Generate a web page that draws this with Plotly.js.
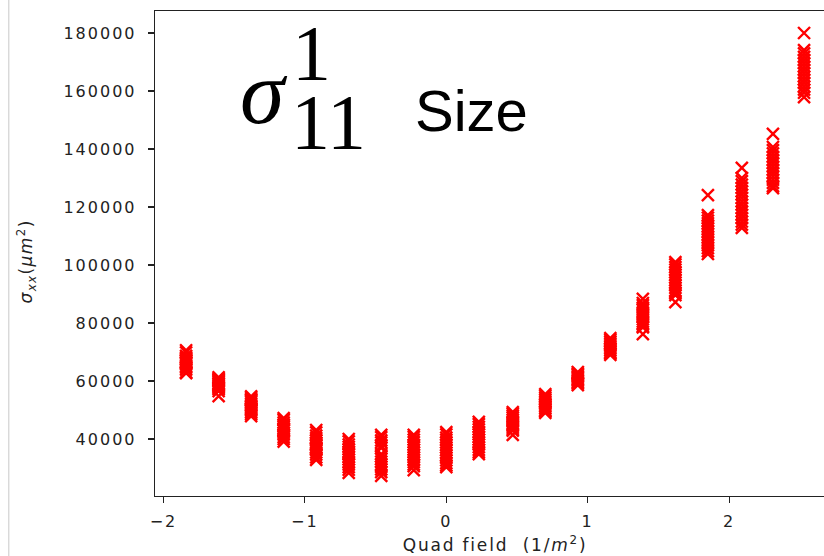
<!DOCTYPE html>
<html>
<head>
<meta charset="utf-8">
<script src="https://cdn.plot.ly/plotly-3.0.1.min.js"></script>
<style>
html, body { margin: 0; padding: 0; background: #fff; overflow: hidden; }
.xtick text, .ytick text { letter-spacing: 2px; }
.annotation[data-index="4"] text { letter-spacing: 1.8px; }
.annotation[data-index="5"] text { letter-spacing: 1.4px; }
</style>
</head>
<body>
<div id="chart" style="width:824px;height:556px;"></div>
<script>
// Quad field positions (1/m^2)
const quadField = [-1.84, -1.61, -1.38, -1.15, -0.92, -0.69, -0.46, -0.23, 0.0, 0.23,
                   0.47, 0.70, 0.93, 1.16, 1.39, 1.62, 1.85, 2.09, 2.31, 2.53];

// sigma_xx samples (um^2) at each quad field value
const s01 = [70600, 69900, 68700, 68100, 67300, 66900, 66200, 65800, 65100, 64600, 63900, 63000, 62700, 67700, 66500];
const s02 = [61300, 60900, 60200, 59800, 59300, 58900, 58400, 58000, 57600, 57200, 56500, 54800, 60500, 59000];
const s03 = [54700, 54100, 53300, 52800, 52100, 51600, 51000, 50500, 49800, 49200, 48600, 47900, 53600, 50200];
const s04 = [47200, 46600, 45700, 45000, 44300, 43500, 42900, 42100, 41500, 40700, 40000, 39100, 44800, 43100];
const s05 = [43100, 42300, 41200, 40300, 39500, 38600, 37800, 37000, 36300, 35400, 34600, 33700, 32800, 38100, 36700];
const s06 = [40000, 39200, 38100, 37300, 36400, 35500, 34700, 33800, 33000, 32100, 31200, 30300, 29400, 28300, 35000];
const s07 = [41400, 40600, 39500, 38800, 37600, 36900, 34800, 34000, 33100, 32200, 31300, 30400, 29500, 28600, 27300];
const s08 = [41400, 40700, 39800, 38900, 38000, 37200, 36300, 35400, 34600, 33700, 32900, 32000, 31200, 30600, 29300];
const s09 = [42400, 41600, 40500, 39700, 38800, 37900, 37100, 36200, 35300, 34400, 33500, 32600, 31700, 30900, 30300];
const s10 = [45900, 45100, 44200, 43300, 42400, 41600, 40700, 39800, 38900, 38100, 37200, 36300, 35500, 34800];
const s11 = [49300, 48700, 48000, 47400, 46700, 46100, 45500, 44800, 44200, 43500, 42900, 41400];
const s12 = [55500, 54900, 54200, 53600, 53000, 52400, 51800, 51200, 50600, 50000, 49500, 49000];
const s13 = [63100, 62600, 62100, 61600, 61100, 60600, 60100, 59600, 59100, 58600];
const s14 = [74800, 74200, 73600, 73000, 72400, 71800, 71200, 70600, 70000, 69500, 69000];
const s15 = [88300, 86900, 86200, 85300, 84500, 83700, 82900, 82100, 81300, 80500, 79700, 78900, 78500, 76200];
const s16 = [101000, 100200, 99300, 98400, 97500, 96600, 95700, 94800, 93900, 93000, 92100, 91200, 90300, 89600, 87200];
const s17 = [124100, 117200, 116300, 115300, 114400, 113400, 112500, 111500, 110600, 109600, 108700, 107700, 106800, 105800, 104800, 103800];
const s18 = [133500, 130000, 128900, 127700, 126600, 125400, 124300, 123100, 121900, 120800, 119600, 118500, 117300, 116200, 115000, 113900, 112800];
const s19 = [145200, 140700, 139600, 138500, 137300, 136200, 135100, 133900, 132800, 131700, 130600, 129400, 128300, 127200, 126500];
const s20 = [180000, 174100, 173000, 171800, 170700, 169600, 168400, 167300, 166200, 165000, 163900, 162800, 161600, 160500, 159400, 157900];

const samples = [s01, s02, s03, s04, s05, s06, s07, s08, s09, s10, s11, s12, s13, s14, s15, s16, s17, s18, s19, s20];

const yTicks = [40000, 60000, 80000, 100000, 120000, 140000, 160000, 180000];
const xTicks = [-2, -1, 0, 1, 2];

const xs = [], ys = [];
samples.forEach((col, i) => col.forEach(v => { xs.push(quadField[i]); ys.push(v); }));

const trace = {
  type: 'scatter', mode: 'markers', x: xs, y: ys,
  marker: { symbol: 'x-thin', size: 12, color: '#ff0000', line: { width: 2.4, color: '#ff0000' } },
  hoverinfo: 'skip', showlegend: false
};

const axisCommon = {
  showgrid: false, zeroline: false, showline: true, linecolor: '#222', linewidth: 1.3,
  ticks: 'outside', ticklen: 6, tickwidth: 1.2, tickcolor: '#222',
  tickfont: { family: 'DejaVu Sans', size: 16, color: '#222' }
};

const layout = {
  width: 824, height: 556, autosize: false,
  margin: { l: 155, r: 0, t: 11, b: 60, pad: 0 },
  paper_bgcolor: '#fff', plot_bgcolor: '#fff',
  xaxis: Object.assign({}, axisCommon, { range: [-2.06, 2.671], tickvals: xTicks, mirror: true, ticklabelstandoff: 4 }),
  yaxis: Object.assign({}, axisCommon, { range: [20350, 187590], tickvals: yTicks, tickformat: 'd', ticklabelstandoff: 8 }),
  shapes: [
    { type: 'line', xref: 'paper', yref: 'paper', x0: -0.2185, x1: -0.2185, y0: -0.13, y1: 1.03,
      line: { color: '#c8c8c8', width: 1 } }
  ],
  annotations: [
    { text: '<i>σ</i>', xref: 'paper', yref: 'paper', x: 0.1629, y: 0.831, showarrow: false,
      xanchor: 'center', yanchor: 'middle', font: { family: 'Liberation Serif', size: 90, color: '#000' } },
    { text: '1', xref: 'paper', yref: 'paper', x: 0.2332, y: 0.914, showarrow: false,
      xanchor: 'center', yanchor: 'middle', font: { family: 'Liberation Serif', size: 78, color: '#000' } },
    { text: '11', xref: 'paper', yref: 'paper', x: 0.2586, y: 0.772, showarrow: false,
      xanchor: 'center', yanchor: 'middle', font: { family: 'Liberation Serif', size: 78, color: '#000' } },
    { text: 'Size', xref: 'paper', yref: 'paper', x: 0.4731, y: 0.7948, showarrow: false,
      xanchor: 'center', yanchor: 'middle', font: { family: 'Liberation Sans', size: 58, color: '#000' } },
    { text: 'Quad field\u00a0\u00a0(1/<i>m</i><sup>2</sup>)', xref: 'paper', yref: 'paper', x: 0.508, y: -0.099,
      showarrow: false, xanchor: 'center', yanchor: 'middle', font: { family: 'DejaVu Sans', size: 17, color: '#222' } },
    { text: '<i>σ<sub>xx</sub></i>(<i>μm</i><sup>2</sup>)', xref: 'paper', yref: 'paper', x: -0.193, y: 0.4845,
      showarrow: false, textangle: -90, xanchor: 'center', yanchor: 'middle', font: { family: 'DejaVu Sans', size: 17, color: '#222' } }
  ]
};

Plotly.newPlot('chart', [trace], layout, { staticPlot: true, displayModeBar: false });
</script>
</body>
</html>
